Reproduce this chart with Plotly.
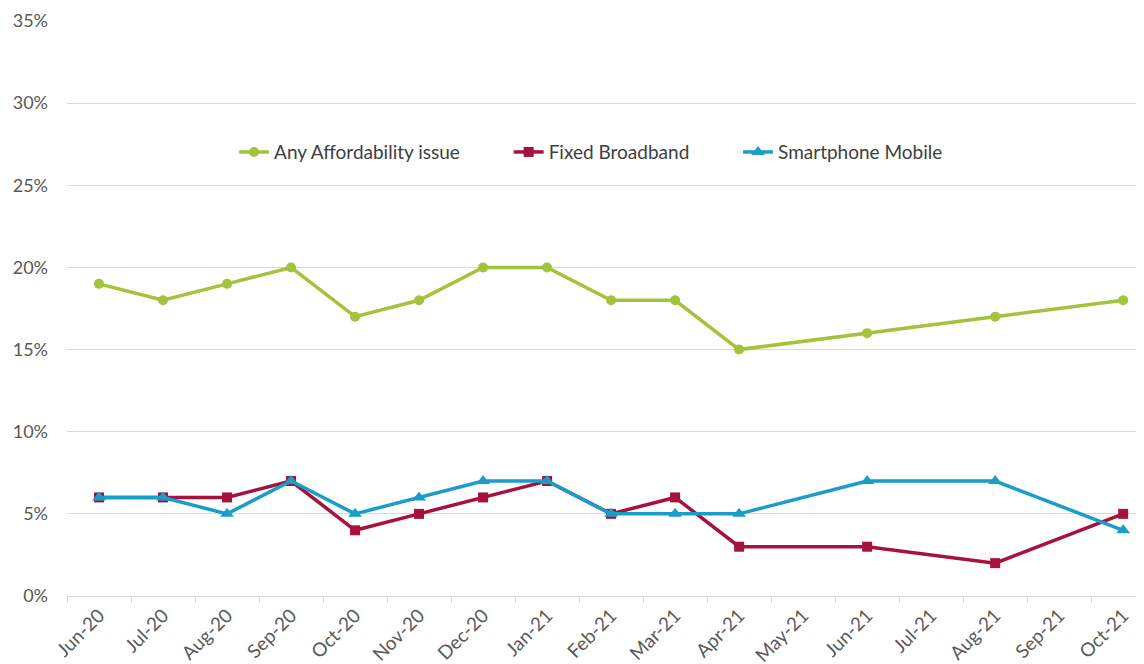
import plotly.graph_objects as go

months = ["Jun-20", "Jul-20", "Aug-20", "Sep-20", "Oct-20", "Nov-20", "Dec-20", "Jan-21",
          "Feb-21", "Mar-21", "Apr-21", "May-21", "Jun-21", "Jul-21", "Aug-21", "Sep-21", "Oct-21"]
any_afford = [0.19, 0.18, 0.19, 0.20, 0.17, 0.18, 0.20, 0.20, 0.18, 0.18, 0.15, None, 0.16, None, 0.17, None, 0.18]
fixed_bb = [0.06, 0.06, 0.06, 0.07, 0.04, 0.05, 0.06, 0.07, 0.05, 0.06, 0.03, None, 0.03, None, 0.02, None, 0.05]
smartphone = [0.06, 0.06, 0.05, 0.07, 0.05, 0.06, 0.07, 0.07, 0.05, 0.05, 0.05, None, 0.07, None, 0.07, None, 0.04]
y_ticks = [0, 0.05, 0.10, 0.15, 0.20, 0.25, 0.30, 0.35]

series = [
    ("Any Affordability issue" + "\u00a0" * 9, any_afford, "#A5C23C", "circle", 10),
    ("Fixed Broadband" + "\u00a0" * 9, fixed_bb, "#A6123D", "square", 10),
    ("Smartphone Mobile", smartphone, "#1A9DC8", "triangle-up", 12),
]

fig = go.Figure()
for name, vals, color, sym, sz in series:
    fig.add_trace(go.Scatter(
        x=months, y=vals, name=name, mode="lines+markers",
        connectgaps=True,
        line=dict(color=color, width=3.5),
        marker=dict(symbol=sym, size=sz, color=color),
    ))

# page body has an 8px margin, so figure coordinates are offset by 8px
fig.update_layout(
    width=1144, height=664,
    margin=dict(l=59, r=0, t=13, b=76),
    plot_bgcolor="white", paper_bgcolor="white",
    font=dict(family="Lato, Open Sans, sans-serif", color="#595959", size=18),
    legend=dict(orientation="h", x=0.483, xanchor="center", y=0.772, yanchor="middle",
                font=dict(size=19, color="#404040"), bgcolor="rgba(0,0,0,0)",
                itemwidth=30, tracegroupgap=0),
    showlegend=True,
)
fig.update_xaxes(
    type="category", categoryorder="array", categoryarray=months,
    range=[-0.5, 16.45], tickangle=-45, tickfont=dict(size=19, color="#595959"),
    showgrid=False, showline=True, linecolor="#D9D9D9", linewidth=1,
    ticks="outside", ticklen=6, tickcolor="#D9D9D9", tickson="boundaries",
    automargin=False,
)
fig.update_yaxes(
    range=[0, 0.35], tickvals=y_ticks, tickformat=".0%",
    showgrid=True, gridcolor="#D9D9D9", gridwidth=1, zeroline=False,
    showline=False, ticks="", ticklabelstandoff=18,
    tickfont=dict(size=18, color="#595959"), automargin=False,
)
fig.write_html("out.html")
